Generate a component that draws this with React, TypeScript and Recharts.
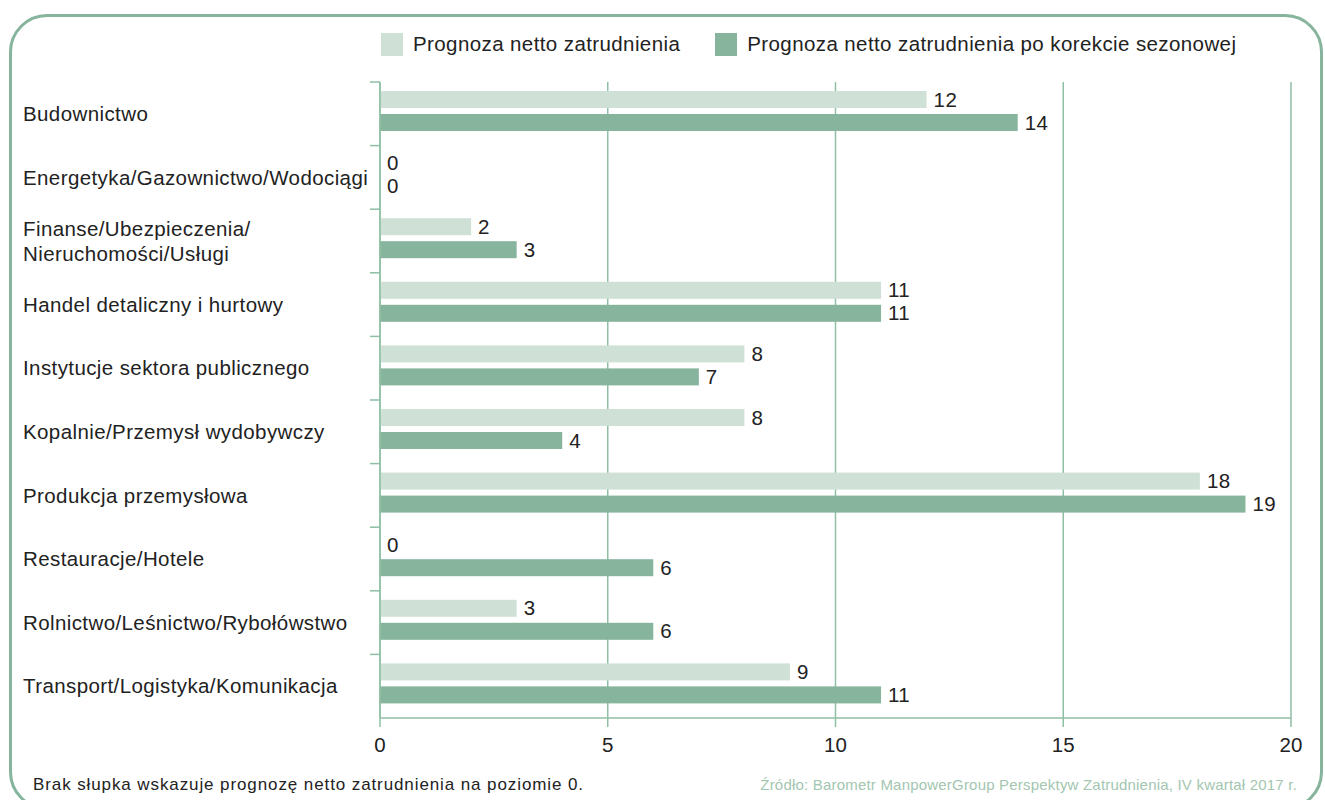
import React from "react";
import { BarChart, Bar, XAxis, YAxis, CartesianGrid } from "recharts";

// sektory (etykiety osi Y), "\n" = łamanie linii
const sectors = [
  "Budownictwo",
  "Energetyka/Gazownictwo/Wodociągi",
  "Finanse/Ubezpieczenia/\nNieruchomości/Usługi",
  "Handel detaliczny i hurtowy",
  "Instytucje sektora publicznego",
  "Kopalnie/Przemysł wydobywczy",
  "Produkcja przemysłowa",
  "Restauracje/Hotele",
  "Rolnictwo/Leśnictwo/Rybołówstwo",
  "Transport/Logistyka/Komunikacja",
];

const netForecast = [12, 0, 2, 11, 8, 8, 18, 0, 3, 9];
const seasonalForecast = [14, 0, 3, 11, 7, 4, 19, 6, 6, 11];

const xTicks = [0, 5, 10, 15, 20];

const seriesNames = [
  "Prognoza netto zatrudnienia",
  "Prognoza netto zatrudnienia po korekcie sezonowej",
];

const data = sectors.map((s, i) => ({
  sector: s,
  net: netForecast[i],
  seasonal: seasonalForecast[i],
}));

const LIGHT = "#cfe1d6";
const DARK = "#86b49c";
const GRID = "#8fbfa5";
const FONT = "'Liberation Sans', Arial, sans-serif";
const FS = 20.5;
const LS = 0.4;

// etykieta kategorii + kreska na granicy pasma
const SectorTick = (props: any) => {
  const { x, y, payload } = props;
  const half = payload.offset || 0;
  const lines = String(payload.value).split("\n");
  const lh = 25;
  const startY = y - ((lines.length - 1) * lh) / 2;
  return (
    <g>
      <line x1={x - 10} x2={x} y1={y - half} y2={y - half} stroke={GRID} strokeWidth={1.5} />
      <text x={23} y={startY} fill="#222" fontSize={FS} letterSpacing={LS} fontFamily={FONT} textAnchor="start">
        {lines.map((l, i) => (
          <tspan key={i} x={23} y={startY + i * lh} dy="0.35em">
            {l}
          </tspan>
        ))}
      </text>
    </g>
  );
};

// słupek + wartość (również dla zera); para słupków lekko przesunięta w górę pasma
const makeShape = (fill: string) => (props: any) => {
  const { x, width, height, value } = props;
  const y = props.y - 3;
  const v = Array.isArray(value) ? value[1] - value[0] : value;
  return (
    <g>
      {width > 0 && <rect x={x} y={y} width={width} height={height} fill={fill} />}
      <text
        x={x + Math.max(width, 0) + 7}
        y={y + height / 2}
        dy="0.35em"
        fill="#222"
        fontSize={FS}
        letterSpacing={LS}
        fontFamily={FONT}
      >
        {v}
      </text>
    </g>
  );
};

const LegendBox = () => (
  <div
    style={{
      position: "absolute",
      left: 381,
      top: 32,
      display: "flex",
      alignItems: "center",
      fontFamily: FONT,
      fontSize: FS,
      letterSpacing: LS,
      color: "#222",
    }}
  >
    {seriesNames.map((n, i) => (
      <div key={n} style={{ display: "flex", alignItems: "center", marginRight: 35 }}>
        <div style={{ width: 22, height: 23, background: i === 0 ? LIGHT : DARK, marginRight: 10 }} />
        <span>{n}</span>
      </div>
    ))}
  </div>
);

export default function App() {
  return (
    <div
      style={{
        position: "absolute",
        left: 0,
        top: 0,
        width: 1325,
        height: 800,
        overflow: "hidden",
        background: "#fff",
        fontFamily: FONT,
      }}
    >
      {/* ramka z zaokrąglonymi rogami */}
      <div
        style={{
          position: "absolute",
          left: 9,
          top: 14,
          width: 1308,
          height: 790,
          border: `3px solid ${DARK}`,
          borderRadius: 38,
        }}
      />
      <LegendBox />

      <div style={{ position: "absolute", left: 0, top: 0 }}>
        <BarChart
          width={1325}
          height={800}
          data={data}
          layout="vertical"
          margin={{ top: 82, right: 34, left: 0, bottom: 52 }}
          barSize={17}
          barGap={6}
        >
          <CartesianGrid horizontal={false} stroke={GRID} strokeWidth={1.5} />
          <XAxis
            type="number"
            domain={[0, 20]}
            ticks={xTicks}
            height={30}
            stroke={GRID}
            strokeWidth={1.5}
            tickSize={9}
            tickMargin={10}
            tick={{ fill: "#222", fontSize: FS, fontFamily: FONT }}
          />
          <YAxis
            type="category"
            dataKey="sector"
            width={380}
            stroke={GRID}
            strokeWidth={1.5}
            tickLine={false}
            tickSize={0}
            tickMargin={0}
            interval={0}
            tick={<SectorTick />}
          />
          <Bar dataKey="net" fill={LIGHT} isAnimationActive={false} shape={makeShape(LIGHT)} />
          <Bar dataKey="seasonal" fill={DARK} isAnimationActive={false} shape={makeShape(DARK)} />
        </BarChart>
      </div>

      <div
        style={{
          position: "absolute",
          left: 33,
          top: 775,
          fontSize: 17,
          letterSpacing: 0.9,
          color: "#222",
        }}
      >
        Brak słupka wskazuje prognozę netto zatrudnienia na poziomie 0.
      </div>
      <div
        style={{
          position: "absolute",
          right: 28,
          top: 776,
          fontSize: 15,
          letterSpacing: 0.2,
          color: "#a3c6b1",
        }}
      >
        Źródło: Barometr ManpowerGroup Perspektyw Zatrudnienia, IV kwartał 2017 r.
      </div>
    </div>
  );
}
